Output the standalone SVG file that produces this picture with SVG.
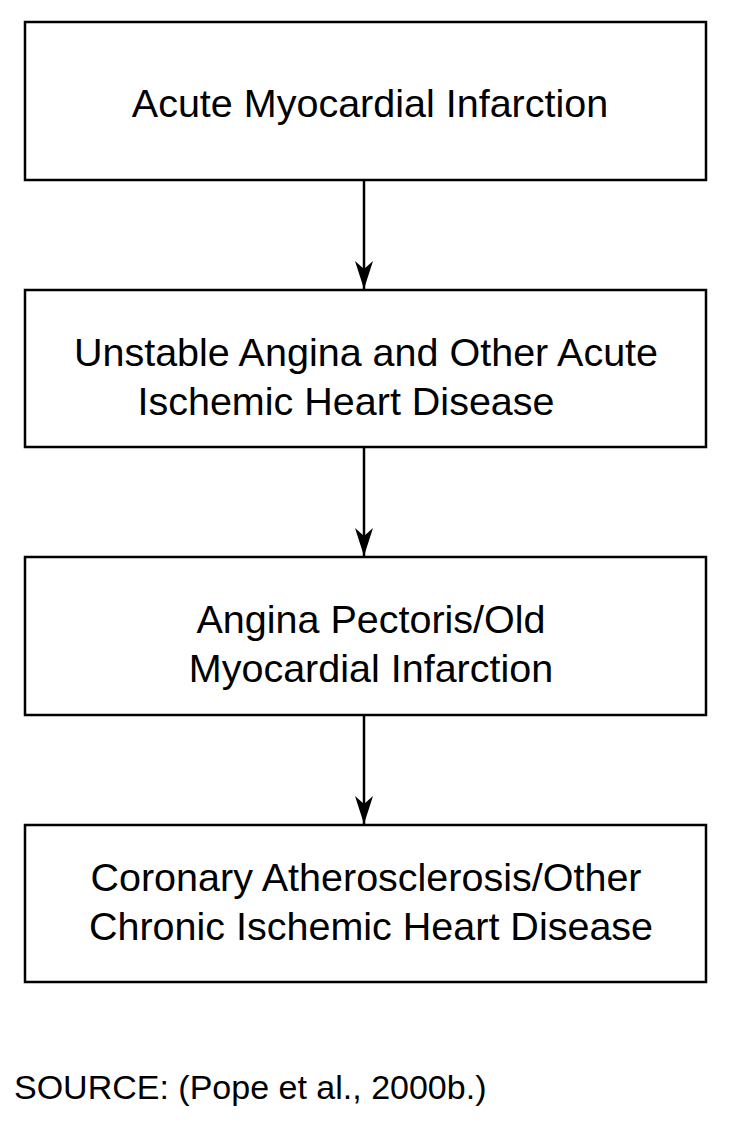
<svg xmlns="http://www.w3.org/2000/svg" width="729" height="1131" viewBox="0 0 729 1131">
<style>
.box{fill:#fff;stroke:#000;stroke-width:2.5}
.t{font-family:"Liberation Sans",Arial,sans-serif;font-size:39.5px;fill:#000;text-anchor:middle}
.c{stroke:#000;stroke-width:2.5;fill:none}
</style>
<defs>
<marker id="ah" markerUnits="userSpaceOnUse" markerWidth="32" markerHeight="20" refX="30" refY="9" orient="auto" viewBox="0 0 32 18">
<path d="M30,9 L2,0 L10,9 L2,18 Z" fill="#000"/>
</marker>
</defs>
<rect width="729" height="1131" fill="#fff"/>
<g id="connectors">
<line class="c" x1="364" y1="180" x2="364" y2="289" marker-end="url(#ah)"/>
<line class="c" x1="364" y1="447" x2="364" y2="556" marker-end="url(#ah)"/>
<line class="c" x1="364" y1="715" x2="364" y2="824" marker-end="url(#ah)"/>
</g>
<g id="n1"><rect class="box" x="25" y="22" width="681" height="158"/><text class="t" x="370" y="117">Acute Myocardial Infarction</text></g>
<g id="n2"><rect class="box" x="25" y="290" width="681" height="157"/><text class="t" x="366" y="366">Unstable Angina and Other Acute</text><text class="t" x="346" y="415">Ischemic Heart Disease</text></g>
<g id="n3"><rect class="box" x="25" y="557" width="681" height="158"/><text class="t" x="371" y="633">Angina Pectoris/Old</text><text class="t" x="371" y="682">Myocardial Infarction</text></g>
<g id="n4"><rect class="box" x="25" y="825" width="681" height="157"/><text class="t" x="366" y="891">Coronary Atherosclerosis/Other</text><text class="t" x="371" y="940">Chronic Ischemic Heart Disease</text></g>
<text x="14" y="1099" style="font-family:'Liberation Sans',Arial,sans-serif;font-size:34px">SOURCE: (Pope et al., 2000b.)</text>
</svg>
